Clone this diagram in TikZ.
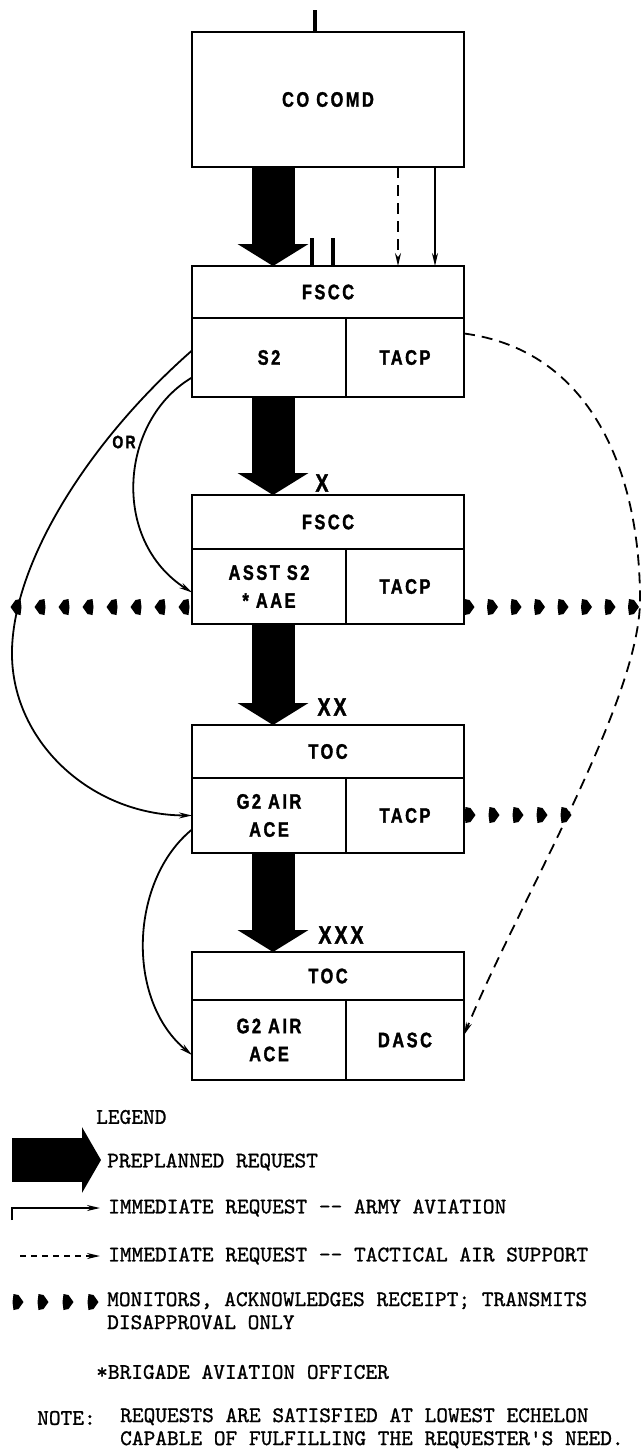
\documentclass[tikz,border=0pt]{standalone}
\usepackage{fontspec}
\usetikzlibrary{arrows.meta,positioning}
\newfontfamily\boxfont[FakeStretch=0.78,LetterSpace=12,BoldFeatures={FakeBold=1.5}]{Liberation Sans}
\newfontfamily\legendfont[FakeBold=1]{lmmono10-regular.otf}

\begin{document}
\begin{tikzpicture}[x=1pt,y=-1pt,
    box/.style={draw,line width=1.6pt,inner sep=0pt,outer sep=0pt,align=center,
      font=\boxfont\bfseries\fontsize{21}{28}\selectfont},
    cell/.style={box,anchor=north west},
    echelon/.style={inner sep=0pt,font=\boxfont\bfseries\fontsize{25}{25}\selectfont},
    preplan/.style={line width=43pt,-{Triangle[length=22pt,width=70pt]}},
    immed/.style={line width=1.8pt,-{Stealth[length=13pt,width=6pt]}},
    tacair/.style={immed,dash pattern=on 11pt off 7pt},
    stub/.style={line width=3.5pt},
    legendtext/.style={anchor=west,inner sep=0pt,align=left,
      font=\legendfont\fontsize{22.3}{23}\selectfont},
    monitor/.pic={\fill (-4.5,-8) -- (0.5,-7) -- (5.5,0) -- (0.5,7) -- (-4.5,8) -- (-5.5,0) -- cycle;}]
  \useasboundingbox (0,0) rectangle (641,1451);

  \node[box,minimum width=272pt,minimum height=135pt] (co) at (328,99.5) {CO COMD};

  \node[box,minimum width=272pt,minimum height=52pt] (f1) at (328,292) {FSCC};
  \node[cell,minimum width=154pt,minimum height=79pt] (f1s) at (f1.south west) {S2};
  \node[cell,minimum width=118pt,minimum height=79pt] (f1t) at (f1s.north east) {TACP};

  \node[box,minimum width=272pt,minimum height=54pt] (f2) at (328,522) {FSCC};
  \node[cell,minimum width=154pt,minimum height=75pt] (f2s) at (f2.south west) {ASST S2\\* AAE};
  \node[cell,minimum width=118pt,minimum height=75pt] (f2t) at (f2s.north east) {TACP};

  \node[box,minimum width=272pt,minimum height=53pt] (t1) at (328,751.5) {TOC};
  \node[cell,minimum width=154pt,minimum height=75pt] (t1s) at (t1.south west) {G2 AIR\\ACE};
  \node[cell,minimum width=118pt,minimum height=75pt] (t1t) at (t1s.north east) {TACP};

  \node[box,minimum width=272pt,minimum height=48pt] (t2) at (328,976) {TOC};
  \node[cell,minimum width=154pt,minimum height=80pt] (t2s) at (t2.south west) {G2 AIR\\ACE};
  \node[cell,minimum width=118pt,minimum height=80pt] (t2t) at (t2s.north east) {DASC};

  \draw[stub] ([xshift=-13pt]co.north) -- ++(0,-22);
  \draw[stub] ([xshift=-16pt]f1.north) -- ++(0,-28);
  \draw[stub] ([xshift=5pt]f1.north) -- ++(0,-28);

  \draw[preplan] ([xshift=-55pt]co.south) -- ([xshift=-55pt]f1.north);
  \draw[preplan] ([xshift=-55pt]f1s.south -| f1.south) -- ([xshift=-55pt]f2.north);
  \draw[preplan] ([xshift=-55pt]f2s.south -| f2.south) -- ([xshift=-55pt]t1.north);
  \draw[preplan] ([xshift=-55pt]t1s.south -| t1.south) -- ([xshift=-55pt]t2.north);

  \node[echelon] (x1) at (322,483) {X};
  \node[echelon] (x2) at (332,707) {XX};
  \node[echelon] (x3) at (341,935) {XXX};

  \draw[tacair] ([xshift=70pt]co.south) -- ([xshift=70pt]f1.north);
  \draw[immed] ([xshift=107pt]co.south) -- ([xshift=107pt]f1.north);

  \draw[immed] ([yshift=7pt]f1s.west) .. controls (90,440) and (14,560) .. (12,650)
    .. controls (10,740) and (90,815) .. (t1s.west);
  \node[echelon,font=\boxfont\bfseries\fontsize{18}{18}\selectfont] (or) at (124,442) {OR};
  \draw[immed] ([yshift=-20pt]f1s.west) .. controls (120,420) and (110,540) .. ([yshift=-6pt]f2s.west);
  \draw[immed] ([yshift=-14pt]t1s.west) .. controls (130,880) and (125,1000) .. ([yshift=-15pt]t2s.west);
  \draw[tacair] ([yshift=24pt]f1t.east) .. controls (590,350) and (640,470) .. (640,600)
    .. controls (640,700) and (520,900) .. ([yshift=5pt]t2t.east);

  \foreach \x in {16,40,...,184}
    \pic[xscale=-1] at (\x,607) {monitor};
  \foreach \x in {469,492.5,...,634}
    \pic at (\x,607) {monitor};
  \foreach \x in {470,494,...,566}
    \pic at (\x,815) {monitor};

  \node[legendtext] (legend) at (96,1117) {LEGEND};
  \coordinate (pa) at (12,1160);
  \coordinate (pb) at (101,1160);
  \draw[line width=44pt,-{Triangle[length=19pt,width=65pt]}] (pa) -- (pb);
  \node[legendtext] (lpre) at (107,1162) {PREPLANNED REQUEST};
  \coordinate (ia) at (12,1220);
  \coordinate (ib) at (100,1208);
  \draw[immed] (ia) |- (ib);
  \node[legendtext] (limm) at (108,1208) {IMMEDIATE REQUEST -{}- ARMY AVIATION};
  \coordinate (ta) at (20,1256);
  \coordinate (tb) at (100,1256);
  \draw[immed,dash pattern=on 6pt off 5pt] (ta) -- (tb);
  \node[legendtext] (ltac) at (108,1256) {IMMEDIATE REQUEST -{}- TACTICAL AIR SUPPORT};
  \foreach \x in {18,43,68,93}
    \pic at (\x,1302) {monitor};
  \node[legendtext,anchor=north west] (lmon) at (107,1292) {MONITORS, ACKNOWLEDGES RECEIPT; TRANSMITS\\DISAPPROVAL ONLY};
  \node[legendtext] (lbao) at (96,1372) {*BRIGADE AVIATION OFFICER};
  \node[legendtext] (note) at (37,1418) {NOTE:};
  \node[legendtext,anchor=north west] (lnote) at (120,1408) {REQUESTS ARE SATISFIED AT LOWEST ECHELON\\CAPABLE OF FULFILLING THE REQUESTER'S NEED.};
\end{tikzpicture}
\end{document}
